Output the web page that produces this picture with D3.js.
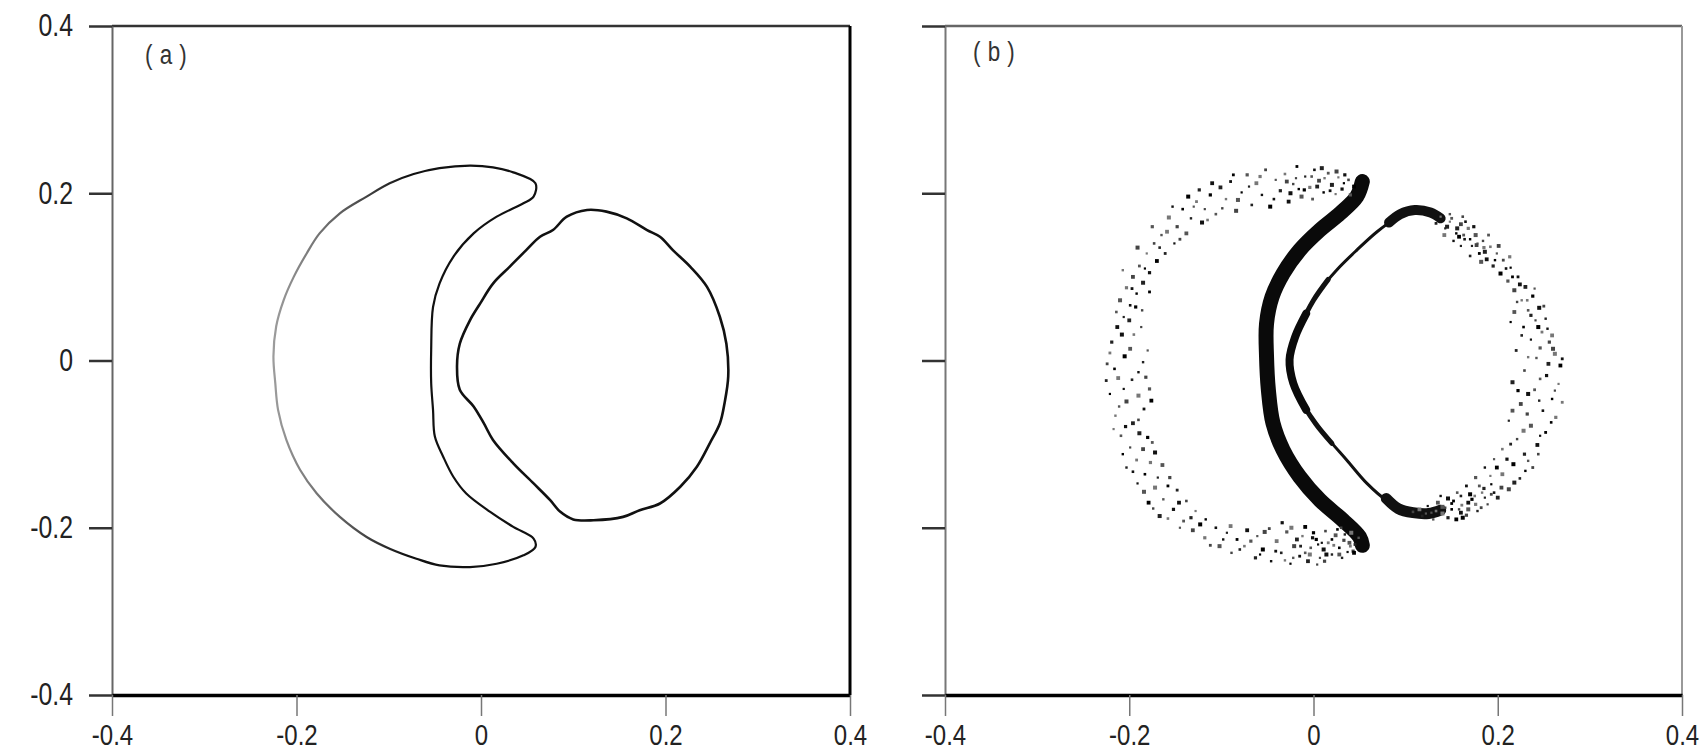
<!DOCTYPE html>
<html><head><meta charset="utf-8">
<script src="https://cdn.jsdelivr.net/npm/d3@7"></script>
<style>
html,body{margin:0;padding:0;background:#fff;}
svg{display:block;}
</style></head><body>
<svg id="c" width="1708" height="753"></svg>
<script>
// ---------- data ----------
const tickValues = [-0.4, -0.2, 0, 0.2, 0.4];
const tickLabels = ["-0.4", "-0.2", "0", "0.2", "0.4"];
const panelLabels = ["(a)", "(b)"];

// panel (a): crescent contour (closed)
const crescentA = [
 [0.059,0.212],[0.035,0.225],[0.013,0.231],[-0.012,0.233],[-0.045,0.230],[-0.073,0.223],[-0.099,0.212],
 [-0.124,0.196],[-0.153,0.176],[-0.175,0.152],[-0.189,0.128],[-0.203,0.100],[-0.214,0.072],[-0.222,0.041],
 [-0.225,0.005],[-0.223,-0.027],[-0.220,-0.059],[-0.211,-0.095],[-0.196,-0.131],[-0.178,-0.159],[-0.153,-0.187],
 [-0.124,-0.211],[-0.099,-0.225],[-0.070,-0.237],[-0.045,-0.245],[-0.012,-0.247],[0.017,-0.243],[0.046,-0.233],
 [0.059,-0.223],[0.057,-0.213],[0.035,-0.199],[0.010,-0.181],[-0.016,-0.159],[-0.030,-0.139],[-0.041,-0.115],
 [-0.050,-0.091],[-0.052,-0.059],[-0.054,-0.027],[-0.054,0.013],[-0.052,0.064],[-0.045,0.092],[-0.030,0.124],
 [-0.008,0.152],[0.017,0.172],[0.046,0.188],[0.057,0.196]
];
// panel (a): right contour (closed)
const roundA = [
 [0.115,0.180],[0.136,0.178],[0.158,0.170],[0.180,0.156],[0.194,0.148],[0.208,0.132],[0.227,0.112],
 [0.245,0.088],[0.259,0.052],[0.266,0.020],[0.268,-0.019],[0.264,-0.051],[0.259,-0.075],[0.248,-0.099],
 [0.234,-0.127],[0.216,-0.151],[0.194,-0.171],[0.172,-0.179],[0.154,-0.187],[0.122,-0.191],[0.100,-0.190],
 [0.086,-0.181],[0.075,-0.167],[0.057,-0.147],[0.035,-0.123],[0.013,-0.095],[0.003,-0.075],[-0.008,-0.055],
 [-0.023,-0.035],[-0.026,-0.007],[-0.023,0.020],[-0.012,0.048],[-0.001,0.068],[0.013,0.092],[0.031,0.112],
 [0.049,0.132],[0.064,0.148],[0.078,0.156],[0.093,0.172]
];

// panel (b): dense bands of points (drawn as thick strokes)
const bandInnerB = [
 [0.053,0.214],[0.047,0.196],[0.029,0.176],[0.007,0.156],[-0.015,0.132],[-0.033,0.104],[-0.045,0.076],
 [-0.051,0.044],[-0.051,0.005],[-0.049,-0.035],[-0.044,-0.075],[-0.033,-0.107],[-0.015,-0.139],
 [0.007,-0.167],[0.032,-0.191],[0.050,-0.211],[0.053,-0.221]
];
const bandEdgeB = [
 [0.137,0.172],[0.108,0.178],[0.087,0.168],[0.069,0.154],[0.047,0.132],[0.025,0.108],[0.007,0.084],
 [-0.008,0.056],[-0.020,0.028],[-0.026,0.001],[-0.022,-0.027],[-0.008,-0.059],[0.014,-0.091],
 [0.036,-0.119],[0.058,-0.147],[0.079,-0.167],[0.101,-0.179],[0.130,-0.183]
];
const bandEdgeWideB = [[0.016,0.097],[0.000,0.072],[-0.014,0.042],[-0.024,0.014],[-0.025,-0.014],[-0.016,-0.043],[0.002,-0.075],[0.020,-0.099]];
const bandEdgeMidB = [[-0.008,0.056],[-0.020,0.028],[-0.026,0.001],[-0.022,-0.027],[-0.008,-0.059]];
const blobTopB = [[0.082,0.165],[0.094,0.175],[0.110,0.180],[0.127,0.177],[0.138,0.170]];
const blobBottomB = [[0.079,-0.165],[0.092,-0.177],[0.108,-0.182],[0.125,-0.183],[0.138,-0.179]];

// panel (b): scattered points
const haloLeftB = [
 [0.044,0.208],[0.038,0.216],[0.031,0.205],[0.027,0.219],[0.020,0.210],[0.016,0.224],[0.011,0.201],[0.006,0.215],
 [0.001,0.228],[-0.004,0.207],[-0.009,0.220],[-0.013,0.196],[-0.018,0.232],[-0.022,0.211],[-0.027,0.190],[-0.031,0.223],
 [-0.036,0.203],[-0.041,0.216],[-0.047,0.184],[-0.052,0.228],[-0.056,0.198],[-0.062,0.212],[-0.067,0.186],[-0.072,0.222],
 [-0.078,0.201],[-0.084,0.179],[-0.090,0.214],[-0.095,0.193],[-0.101,0.207],[-0.106,0.175],
 [-0.112,0.198],[-0.118,0.181],[-0.121,0.165],[-0.127,0.190],[-0.133,0.170],[-0.138,0.152],[-0.142,0.181],[-0.148,0.160],
 [-0.151,0.140],[-0.157,0.171],[-0.161,0.128],[-0.165,0.150],[-0.170,0.119],[-0.173,0.140],[-0.178,0.105],[-0.181,0.128],
 [-0.185,0.093],[-0.189,0.113],[-0.192,0.080],[-0.196,0.100],[-0.199,0.066],[-0.203,0.087],[-0.206,0.052],[-0.210,0.072],
 [-0.178,0.082],[-0.186,0.060],
 [-0.213,0.040],[-0.195,0.031],[-0.219,0.022],[-0.180,0.012],[-0.205,0.005],[-0.224,-0.004],[-0.190,-0.014],[-0.212,-0.021],
 [-0.197,-0.023],[-0.178,-0.034],[-0.221,-0.040],[-0.203,-0.049],[-0.184,-0.058],[-0.215,-0.066],[-0.196,-0.075],
 [-0.209,-0.090],[-0.180,-0.092],[-0.199,-0.104],[-0.172,-0.110],[-0.192,-0.119],[-0.203,-0.128],[-0.164,-0.125],[-0.183,-0.136],
 [-0.156,-0.140],[-0.191,-0.147],[-0.172,-0.152],[-0.148,-0.155],[-0.163,-0.166],[-0.179,-0.170],[-0.138,-0.168],[-0.152,-0.178],
 [-0.128,-0.180],[-0.167,-0.186],[-0.141,-0.192],[-0.117,-0.190],
 [-0.131,-0.203],[-0.106,-0.200],[-0.118,-0.212],[-0.094,-0.206],[-0.102,-0.222],[-0.083,-0.214],[-0.089,-0.230],[-0.072,-0.203],
 [-0.075,-0.222],[-0.063,-0.236],[-0.061,-0.210],[-0.055,-0.226],[-0.048,-0.201],[-0.046,-0.240],[-0.040,-0.216],[-0.035,-0.230],
 [-0.029,-0.205],[-0.025,-0.243],[-0.021,-0.222],[-0.015,-0.234],[-0.012,-0.210],[-0.006,-0.240],[-0.003,-0.224],[0.003,-0.214],
 [0.007,-0.236],[0.011,-0.226],[0.016,-0.218],[0.020,-0.232],[0.024,-0.209],[0.028,-0.224],[0.033,-0.215],[0.037,-0.229],
 [0.041,-0.206],[0.045,-0.220],[0.049,-0.212],[-0.009,-0.199],[0.013,-0.204],[-0.034,-0.194]
];
const haloLeftB2 = [
 [0.034,0.222],[0.024,0.199],[0.009,0.230],[-0.001,0.193],[-0.016,0.205],[-0.029,0.214],[-0.043,0.193],[-0.058,0.220],
 [-0.070,0.208],[-0.082,0.192],[-0.087,0.222],[-0.099,0.182],[-0.110,0.212],[-0.115,0.168],[-0.124,0.204],
 [-0.130,0.184],[-0.136,0.196],[-0.145,0.145],[-0.153,0.184],[-0.159,0.154],[-0.167,0.135],[-0.175,0.160],[-0.183,0.110],
 [-0.191,0.135],[-0.197,0.086],[-0.207,0.108],[-0.200,0.048],[-0.214,0.058],[-0.193,0.064],
 [-0.187,0.040],[-0.208,0.031],[-0.221,0.009],[-0.185,-0.002],[-0.199,0.014],[-0.216,-0.010],[-0.182,-0.020],[-0.206,-0.034],
 [-0.190,-0.042],[-0.225,-0.024],[-0.211,-0.055],[-0.176,-0.048],[-0.190,-0.071],[-0.204,-0.079],
 [-0.217,-0.082],[-0.189,-0.087],[-0.175,-0.098],[-0.207,-0.112],[-0.185,-0.106],[-0.196,-0.133],[-0.177,-0.122],[-0.169,-0.140],
 [-0.184,-0.157],[-0.158,-0.150],[-0.174,-0.177],[-0.146,-0.170],[-0.158,-0.189],[-0.133,-0.188],[-0.145,-0.200],
 [-0.123,-0.196],[-0.112,-0.221],[-0.098,-0.214],[-0.090,-0.198],[-0.080,-0.226],[-0.068,-0.216],[-0.058,-0.232],[-0.053,-0.205],
 [-0.041,-0.228],[-0.031,-0.239],[-0.018,-0.214],[-0.009,-0.230],[0.000,-0.206],[0.004,-0.244],[0.014,-0.232],[0.022,-0.221],
 [0.031,-0.236],[0.039,-0.218],[0.026,-0.202],[0.043,-0.228],[0.009,-0.218],[-0.024,-0.200]
];
const haloRightB = [
 [0.138,0.172],[0.145,0.160],[0.150,0.170],[0.155,0.152],[0.160,0.163],[0.164,0.145],[0.168,0.158],[0.172,0.137],
 [0.176,0.150],[0.180,0.128],[0.184,0.143],[0.188,0.121],[0.192,0.136],[0.195,0.113],[0.199,0.128],[0.203,0.104],
 [0.206,0.120],[0.152,0.143],[0.142,0.150],[0.170,0.125],
 [0.211,0.095],[0.214,0.111],[0.218,0.084],[0.222,0.100],[0.226,0.072],[0.230,0.088],[0.233,0.060],[0.238,0.077],
 [0.241,0.048],[0.245,0.063],[0.248,0.034],[0.252,0.050],[0.218,0.058],[0.228,0.040],[0.256,0.022],[0.236,0.025],
 [0.262,0.008],[0.220,0.012],[0.242,0.003],[0.268,-0.006],[0.229,-0.012],[0.253,-0.018],[0.266,-0.028],[0.216,-0.026],
 [0.240,-0.035],[0.259,-0.046],[0.225,-0.052],[0.249,-0.060],[0.263,-0.068],
 [0.212,-0.072],[0.236,-0.078],[0.252,-0.086],[0.221,-0.094],[0.243,-0.101],[0.205,-0.106],[0.229,-0.112],[0.196,-0.118],
 [0.217,-0.124],[0.238,-0.128],[0.186,-0.128],[0.205,-0.136],[0.224,-0.141],[0.176,-0.140],
 [0.193,-0.148],[0.212,-0.154],[0.166,-0.150],[0.183,-0.158],[0.200,-0.164],[0.156,-0.158],[0.172,-0.166],[0.189,-0.172],
 [0.146,-0.165],[0.161,-0.173],[0.178,-0.180],[0.135,-0.170],[0.150,-0.178],[0.166,-0.185],[0.124,-0.174],[0.140,-0.183],
 [0.118,-0.186],[0.130,-0.190],[0.155,-0.190],[0.108,-0.181]
];
const haloRightB2 = [
 [0.133,0.164],[0.148,0.175],[0.158,0.148],[0.162,0.172],[0.174,0.160],[0.178,0.140],[0.186,0.130],[0.190,0.150],
 [0.197,0.120],[0.201,0.137],[0.209,0.110],[0.213,0.124],[0.160,0.137],[0.182,0.118],
 [0.216,0.100],[0.221,0.070],[0.224,0.091],[0.232,0.072],[0.236,0.054],[0.240,0.086],[0.244,0.040],[0.250,0.065],
 [0.254,0.038],[0.259,0.030],[0.226,0.030],[0.246,0.015],[0.214,0.046],[0.260,0.014],
 [0.270,0.002],[0.233,0.004],[0.255,-0.004],[0.246,-0.022],[0.222,-0.036],[0.262,-0.036],[0.233,-0.040],[0.270,-0.050],
 [0.245,-0.048],[0.216,-0.060],[0.258,-0.074],[0.232,-0.064],
 [0.246,-0.090],[0.228,-0.084],[0.214,-0.100],[0.233,-0.120],[0.199,-0.128],[0.244,-0.112],[0.210,-0.118],[0.192,-0.138],
 [0.218,-0.146],[0.180,-0.150],[0.230,-0.132],
 [0.204,-0.152],[0.196,-0.158],[0.176,-0.172],[0.186,-0.164],[0.168,-0.178],[0.152,-0.168],[0.143,-0.176],[0.160,-0.182],
 [0.133,-0.180],[0.146,-0.188],[0.122,-0.183],[0.170,-0.160],[0.182,-0.176],[0.138,-0.162],[0.115,-0.178],[0.160,-0.162]
];
// denser clusters near the tips
const haloDenseB = [
 [0.040,0.198],[0.033,0.212],[0.025,0.226],[0.018,0.203],[0.012,0.218],[0.004,0.208],[-0.002,0.220],[-0.010,0.204],
 [-0.019,0.218],[-0.025,0.200],
 [0.040,-0.222],[0.034,-0.208],[0.028,-0.232],[0.020,-0.214],[0.012,-0.240],[0.005,-0.220],[-0.004,-0.232],[-0.014,-0.222],
 [-0.022,-0.236],[0.044,-0.230],[0.030,-0.200],[-0.001,-0.212],
 [0.148,0.166],[0.156,0.158],[0.163,0.150],[0.170,0.145],[0.177,0.138],[0.165,0.166],[0.185,0.135],[0.143,0.158],
 [0.140,-0.175],[0.150,-0.171],[0.158,-0.178],[0.168,-0.170],[0.175,-0.162],[0.185,-0.153],[0.128,-0.182],[0.162,-0.188],
 [0.193,-0.160]
];

// ---------- drawing ----------
const svg = d3.select("#c");
const FONT = '"Liberation Sans",Arial,sans-serif';
const SQ = 0.8; // horizontal squeeze for the narrow typeface look
const yS = d3.scaleLinear().domain([-0.4, 0.4]).range([695, 26]);
const xA = d3.scaleLinear().domain([-0.4, 0.4]).range([112, 850]);
const xB = d3.scaleLinear().domain([-0.4, 0.4]).range([945, 1682]);

function frame(x, showY, leftColor, topColor, rightColor, rightW) {
  const g = svg.append("g");
  const [x0, x1] = x.range();
  g.append("line").attr("x1", x0).attr("x2", x1).attr("y1", yS(0.4)).attr("y2", yS(0.4))
    .attr("stroke", topColor).attr("stroke-width", 2.5);
  g.append("line").attr("x1", x1).attr("x2", x1).attr("y1", yS(0.4)).attr("y2", yS(-0.4))
    .attr("stroke", rightColor).attr("stroke-width", rightW);
  const ay = g.append("g").attr("transform", `translate(${x0},0)`)
    .call(d3.axisLeft(yS).tickValues(tickValues).tickSize(23).tickSizeOuter(0).tickPadding(16)
      .tickFormat((d, i) => showY ? tickLabels[i] : ""));
  ay.select(".domain").attr("stroke", leftColor).attr("stroke-width", 2);
  ay.selectAll(".tick line").attr("stroke", "#333").attr("stroke-width", 2.5);
  ay.selectAll("text").attr("font-family", FONT).attr("font-size", 31).attr("fill", "#222")
    .attr("x", -39 / SQ).attr("transform", `scale(${SQ},1)`);
  const ax = g.append("g").attr("transform", `translate(0,${yS(-0.4)})`)
    .call(d3.axisBottom(x).tickValues(tickValues).tickSize(21).tickSizeOuter(0).tickPadding(8)
      .tickFormat((d, i) => tickLabels[i]));
  ax.select(".domain").attr("stroke", "#000").attr("stroke-width", 3.5);
  ax.selectAll(".tick line").attr("stroke", "#777").attr("stroke-width", 1.5);
  ax.selectAll("text").attr("font-family", FONT).attr("font-size", 30).attr("fill", "#222")
    .attr("transform", `scale(${SQ},1)`);
  return g;
}

frame(xA, true, "#666", "#333", "#000", 3);
frame(xB, false, "#777", "#666", "#999", 2);

svg.append("text").attr("x", (xA(-0.4) + 33) / SQ).attr("y", 64).text(panelLabels[0])
  .attr("transform", `scale(${SQ},1)`)
  .attr("font-family", FONT).attr("font-size", 28).attr("letter-spacing", 9).attr("fill", "#333");
svg.append("text").attr("x", (xB(-0.4) + 28) / SQ).attr("y", 61).text(panelLabels[1])
  .attr("transform", `scale(${SQ},1)`)
  .attr("font-family", FONT).attr("font-size", 28).attr("letter-spacing", 9).attr("fill", "#333");

// ----- panel (a) -----
const defs = svg.append("defs");
const grad = defs.append("linearGradient").attr("id", "cg").attr("gradientUnits", "userSpaceOnUse")
  .attr("x1", xA(-0.23)).attr("x2", xA(-0.08)).attr("y1", 0).attr("y2", 0);
grad.append("stop").attr("offset", "0%").attr("stop-color", "#a0a0a0");
grad.append("stop").attr("offset", "60%").attr("stop-color", "#555");
grad.append("stop").attr("offset", "100%").attr("stop-color", "#111");

const lineA = d3.line().x(d => xA(d[0])).y(d => yS(d[1])).curve(d3.curveCatmullRomClosed);
svg.append("path").attr("d", lineA(crescentA)).attr("fill", "none")
  .attr("stroke", "url(#cg)").attr("stroke-width", 2.2);
svg.append("path").attr("d", lineA(roundA)).attr("fill", "none")
  .attr("stroke", "#111").attr("stroke-width", 2.6);

// ----- panel (b) -----
const lineB = d3.line().x(d => xB(d[0])).y(d => yS(d[1])).curve(d3.curveCatmullRom);
function band(data, w, color) {
  svg.append("path").attr("d", lineB(data)).attr("fill", "none").attr("stroke", color)
    .attr("stroke-width", w).attr("stroke-linecap", "round").attr("stroke-linejoin", "round");
}
band(bandInnerB, 15, "#0a0a0a");
band(bandEdgeB, 3, "#111");
band(bandEdgeWideB, 5, "#111");
band(bandEdgeMidB, 8, "#0a0a0a");
band(blobTopB, 10, "#111");
band(blobBottomB, 11, "#111");

const shades = ["#000", "#444", "#111", "#777", "#222", "#555"];
const sizes = [3.8, 2.6, 3.2, 2.2, 4.0, 2.8, 2.4];
const dots = haloLeftB.concat(haloRightB, haloLeftB2, haloRightB2, haloDenseB);
svg.append("g").selectAll("rect").data(dots).join("rect")
  .attr("x", (d, i) => xB(d[0]) - sizes[i % sizes.length] / 2)
  .attr("y", (d, i) => yS(d[1]) - sizes[i % sizes.length] / 2)
  .attr("width", (d, i) => sizes[i % sizes.length])
  .attr("height", (d, i) => sizes[i % sizes.length])
  .attr("fill", (d, i) => shades[i % shades.length]);
</script>
</body></html>
